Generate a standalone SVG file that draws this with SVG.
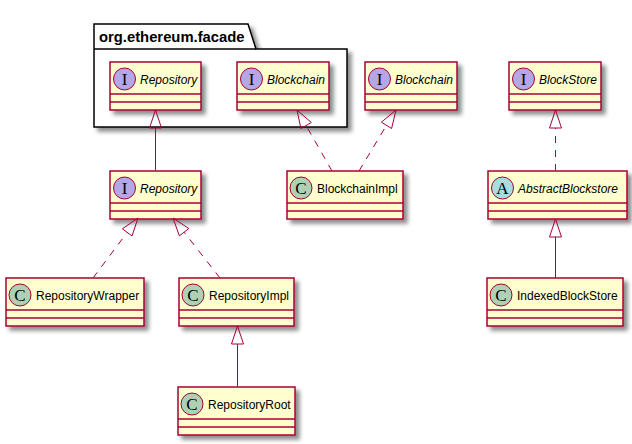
<svg xmlns="http://www.w3.org/2000/svg" width="632" height="444" viewBox="0 0 632 444">
<defs>
<filter id="sh" x="-10%" y="-10%" width="130%" height="140%">
<feGaussianBlur in="SourceAlpha" stdDeviation="2"/>
<feOffset dx="4" dy="4" result="b"/>
<feComponentTransfer><feFuncA type="linear" slope="0.45"/></feComponentTransfer>
<feMerge><feMergeNode/><feMergeNode in="SourceGraphic"/></feMerge>
</filter>
</defs>
<style>
.box{fill:#FEFECE;stroke:#A80036;stroke-width:1.5}
.sep{stroke:#A80036;stroke-width:1.5}
.ci{fill:#B4A7E5;stroke:#A80036;stroke-width:1}
.cc{fill:#ADD1B2;stroke:#A80036;stroke-width:1}
.ca{fill:#A9DCDF;stroke:#A80036;stroke-width:1}
.lt{font-family:"Liberation Serif",serif;font-size:17px;fill:#000;text-anchor:middle}
.nm{font-family:"Liberation Sans",Arial,sans-serif;font-size:12px;fill:#000}
.it{font-style:italic}
.pk{fill:#FFFFFF;stroke:#000;stroke-width:1.5}
.pt{font-family:"Liberation Sans",Arial,sans-serif;font-size:14.8px;font-weight:bold;fill:#000}
.e{fill:none;stroke:#A80036;stroke-width:1}
.d{stroke-dasharray:7,7}
.ah{fill:none;stroke:#A80036;stroke-width:1}
</style>
<g id="pkg-org.ethereum.facade">
<path class="pk" filter="url(#sh)" d="M94,24 L248,24 L256,49 L347,49 L347,127 L94,127 Z"/>
<line x1="94" y1="49" x2="256" y2="49" stroke="#000" stroke-width="1.5"/>
<text class="pt" x="99" y="41.5">org.ethereum.facade</text>
</g>
<g id="Repository_facade">
<rect class="box" filter="url(#sh)" x="110" y="62" width="91" height="48"/>
<line class="sep" x1="110" y1="94" x2="201" y2="94"/><line class="sep" x1="110" y1="102" x2="201" y2="102"/>
<circle class="ci" cx="124.5" cy="79" r="11"/><text class="lt" x="124.5" y="85">I</text>
<text class="nm it" x="140" y="84">Repository</text>
</g>
<g id="Blockchain_facade">
<rect class="box" filter="url(#sh)" x="237" y="62" width="92" height="48"/>
<line class="sep" x1="237" y1="94" x2="329" y2="94"/><line class="sep" x1="237" y1="102" x2="329" y2="102"/>
<circle class="ci" cx="251.5" cy="79" r="11"/><text class="lt" x="251.5" y="85">I</text>
<text class="nm it" x="267" y="84">Blockchain</text>
</g>
<g id="Blockchain">
<rect class="box" filter="url(#sh)" x="365" y="62" width="92" height="48"/>
<line class="sep" x1="365" y1="94" x2="457" y2="94"/><line class="sep" x1="365" y1="102" x2="457" y2="102"/>
<circle class="ci" cx="379.5" cy="79" r="11"/><text class="lt" x="379.5" y="85">I</text>
<text class="nm it" x="395" y="84">Blockchain</text>
</g>
<g id="BlockStore">
<rect class="box" filter="url(#sh)" x="509" y="62" width="92" height="48"/>
<line class="sep" x1="509" y1="94" x2="601" y2="94"/><line class="sep" x1="509" y1="102" x2="601" y2="102"/>
<circle class="ci" cx="523.5" cy="79" r="11"/><text class="lt" x="523.5" y="85">I</text>
<text class="nm it" x="539" y="84">BlockStore</text>
</g>
<g id="Repository">
<rect class="box" filter="url(#sh)" x="110" y="171" width="91" height="48"/>
<line class="sep" x1="110" y1="203" x2="201" y2="203"/><line class="sep" x1="110" y1="211" x2="201" y2="211"/>
<circle class="ci" cx="124.5" cy="188" r="11"/><text class="lt" x="124.5" y="194">I</text>
<text class="nm it" x="140" y="193">Repository</text>
</g>
<g id="BlockchainImpl">
<rect class="box" filter="url(#sh)" x="287" y="171" width="116" height="48"/>
<line class="sep" x1="287" y1="203" x2="403" y2="203"/><line class="sep" x1="287" y1="211" x2="403" y2="211"/>
<circle class="cc" cx="301" cy="188" r="11"/><text class="lt" x="301" y="194">C</text>
<text class="nm" x="317" y="193">BlockchainImpl</text>
</g>
<g id="AbstractBlockstore">
<rect class="box" filter="url(#sh)" x="488" y="171" width="139" height="48"/>
<line class="sep" x1="488" y1="203" x2="627" y2="203"/><line class="sep" x1="488" y1="211" x2="627" y2="211"/>
<circle class="ca" cx="502.5" cy="188" r="11"/><text class="lt" x="502.5" y="194">A</text>
<text class="nm it" x="518" y="193">AbstractBlockstore</text>
</g>
<g id="RepositoryWrapper">
<rect class="box" filter="url(#sh)" x="6" y="278" width="138" height="48"/>
<line class="sep" x1="6" y1="310" x2="144" y2="310"/><line class="sep" x1="6" y1="318" x2="144" y2="318"/>
<circle class="cc" cx="20" cy="295" r="11"/><text class="lt" x="20" y="301">C</text>
<text class="nm" x="36" y="300">RepositoryWrapper</text>
</g>
<g id="RepositoryImpl">
<rect class="box" filter="url(#sh)" x="179" y="278" width="115" height="48"/>
<line class="sep" x1="179" y1="310" x2="294" y2="310"/><line class="sep" x1="179" y1="318" x2="294" y2="318"/>
<circle class="cc" cx="193" cy="295" r="11"/><text class="lt" x="193" y="301">C</text>
<text class="nm" x="209" y="300">RepositoryImpl</text>
</g>
<g id="IndexedBlockStore">
<rect class="box" filter="url(#sh)" x="487" y="278" width="136" height="48"/>
<line class="sep" x1="487" y1="310" x2="623" y2="310"/><line class="sep" x1="487" y1="318" x2="623" y2="318"/>
<circle class="cc" cx="501" cy="295" r="11"/><text class="lt" x="501" y="301">C</text>
<text class="nm" x="517" y="300">IndexedBlockStore</text>
</g>
<g id="RepositoryRoot">
<rect class="box" filter="url(#sh)" x="178" y="387" width="117" height="48"/>
<line class="sep" x1="178" y1="419" x2="295" y2="419"/><line class="sep" x1="178" y1="427" x2="295" y2="427"/>
<circle class="cc" cx="192" cy="404" r="11"/><text class="lt" x="192" y="410">C</text>
<text class="nm" x="208" y="409">RepositoryRoot</text>
</g>
<g id="connectors">
<line class="e" x1="155.5" y1="171" x2="155.5" y2="128"/>
<polygon class="ah" points="155.5,110 149.5,128 161.5,128"/>
<line class="e d" x1="332" y1="171" x2="306.1" y2="125.5"/>
<polygon class="ah" points="297,110 311.3,122.5 300.9,128.5"/>
<line class="e d" x1="359" y1="171" x2="386.5" y2="125.3"/>
<polygon class="ah" points="396,110 391.6,128.5 381.4,122.2"/>
<line class="e d" x1="555.5" y1="171" x2="555.5" y2="128"/>
<polygon class="ah" points="555.5,110 549.5,128 561.5,128"/>
<line class="e" x1="555.5" y1="278" x2="555.5" y2="237"/>
<polygon class="ah" points="555.5,219 549.5,237 561.5,237"/>
<line class="e d" x1="93" y1="278" x2="127.2" y2="232.4"/>
<polygon class="ah" points="138,218 132,236 122.4,228.8"/>
<line class="e d" x1="220" y1="278" x2="184.1" y2="232.2"/>
<polygon class="ah" points="173,218 188.8,228.5 179.4,235.9"/>
<line class="e" x1="237.5" y1="387" x2="237.5" y2="344"/>
<polygon class="ah" points="237.5,326 231.5,344 243.5,344"/>
</g>
</svg>
